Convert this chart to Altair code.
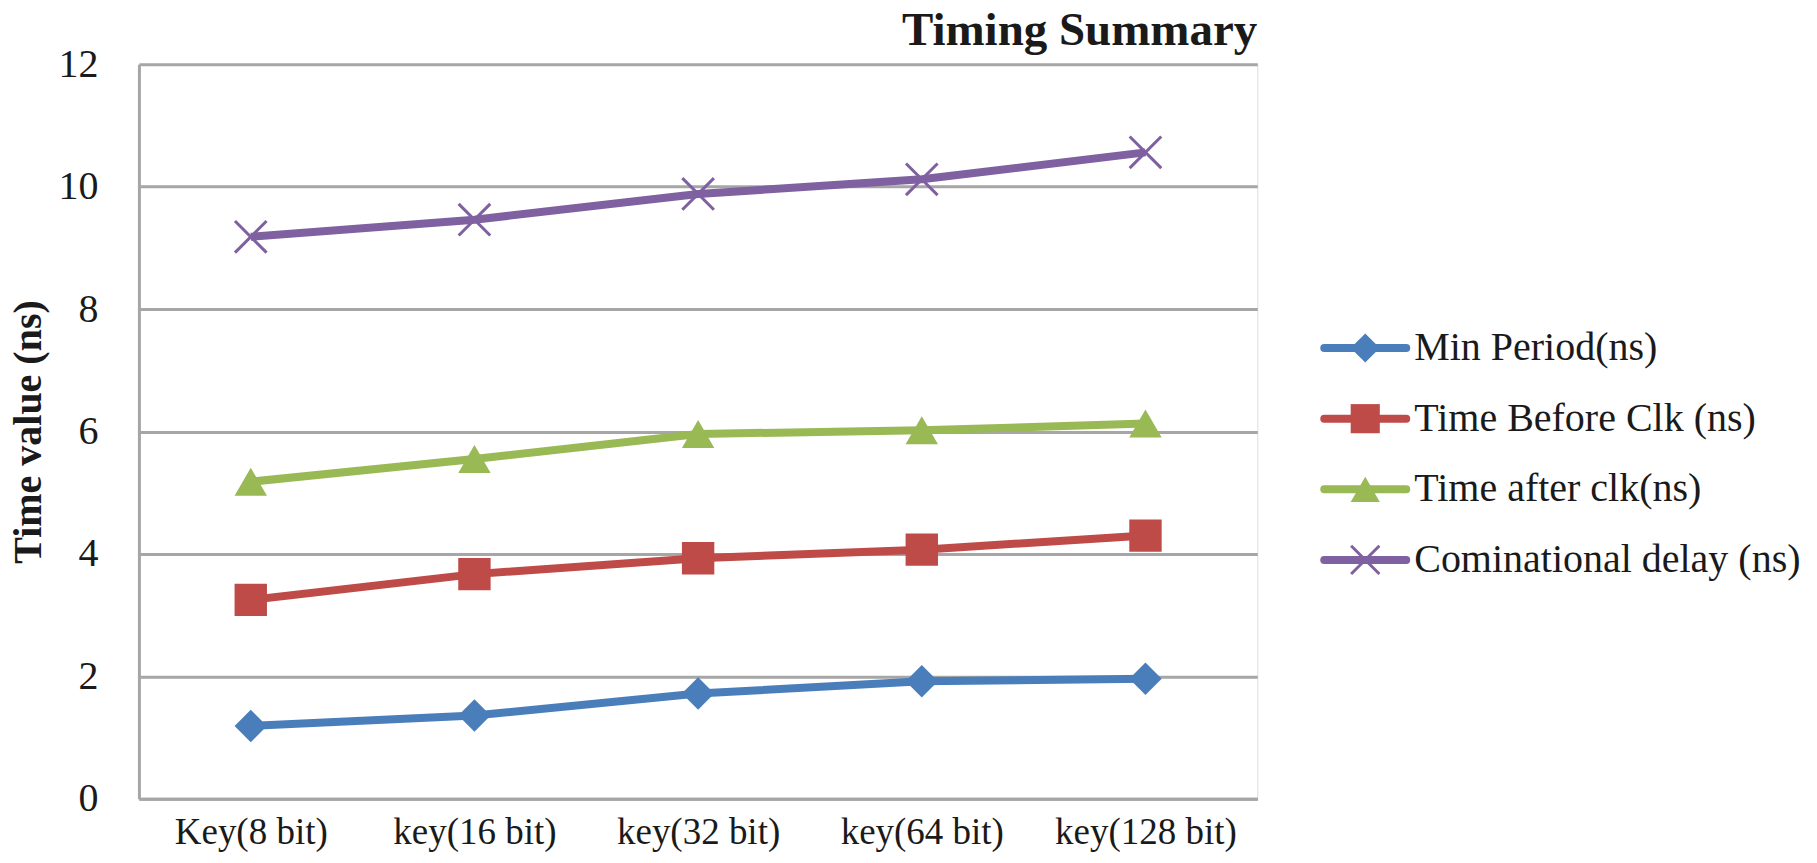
import altair as alt
import pandas as pd

keys = ["Key(8 bit)", "key(16 bit)", "key(32 bit)", "key(64 bit)", "key(128 bit)"]
series = ["Min Period(ns)", "Time Before Clk (ns)", "Time after clk(ns)", "Cominational delay (ns)"]
min_period = [1.19, 1.36, 1.72, 1.92, 1.96]
before_clk = [3.25, 3.67, 3.93, 4.07, 4.30]
after_clk = [5.18, 5.55, 5.96, 6.02, 6.13]
comb_delay = [9.18, 9.46, 9.88, 10.12, 10.56]
y_ticks = [0, 2, 4, 6, 8, 10, 12]

colors = ["#4a7ebb", "#be4b48", "#98b954", "#7f60a0"]
XPATH = "M-1,-1L1,1M-1,1L1,-1"
shapes = ["diamond", "square", "triangle-up", XPATH]
FONT = "Liberation Serif"

rows = []
for s, vals in zip(series, [min_period, before_clk, after_clk, comb_delay]):
    for k, v in zip(keys, vals):
        rows.append({"key": k, "series": s, "value": v})
df = pd.DataFrame(rows)
leg = pd.DataFrame({"series": series})

color = alt.Color("series:N", scale=alt.Scale(domain=series, range=colors), legend=None)
shape = alt.Shape("series:N", scale=alt.Scale(domain=series, range=shapes), legend=None)

x = alt.X("key:N", sort=keys, scale=alt.Scale(type="point", padding=0.5),
          axis=alt.Axis(title=None, labelAngle=0, labelFontSize=37, labelFont=FONT,
                        labelColor="#1a1a1a", labelPadding=16, labelLimit=0, ticks=False,
                        domainColor="#a6a6a6", domainWidth=3, grid=False))
y = alt.Y("value:Q", scale=alt.Scale(domain=[0, 12], nice=False),
          axis=alt.Axis(title="Time value (ns)", values=y_ticks, grid=True,
                        gridColor="#a6a6a6", gridWidth=3, domainColor="#a6a6a6",
                        domainWidth=3, ticks=False, labelFontSize=40, labelFont=FONT,
                        labelColor="#1a1a1a", labelPadding=41, titleFontSize=40,
                        titleFont=FONT, titleFontWeight="bold", titleColor="#1a1a1a",
                        titlePadding=9))

base = alt.Chart(df)
lines = base.mark_line(strokeWidth=8).encode(x=x, y=y, color=color, detail="series:N")
filled_pts = base.transform_filter(alt.datum.series != series[3]).mark_point(
    filled=True, opacity=1, size=1050).encode(x=x, y=y, color=color, shape=shape)
x_pts = base.transform_filter(alt.datum.series == series[3]).mark_point(
    filled=False, opacity=1, size=1000, strokeWidth=3, shape=XPATH).encode(x=x, y=y, color=color)

main = alt.layer(lines, filled_pts, x_pts)

ly = alt.Y("series:N", sort=series, scale=alt.Scale(type="point", range=[284, 496], padding=0), axis=None)
lbase = alt.Chart(leg)
l_rule = lbase.mark_rule(strokeWidth=8, strokeCap="round").encode(
    x=alt.value(1186), x2=alt.value(1268), y=ly, color=color)
l_fill = lbase.transform_filter(alt.datum.series != series[3]).mark_point(
    filled=True, opacity=1, size=850).encode(x=alt.value(1227), y=ly, color=color, shape=shape)
l_x = lbase.transform_filter(alt.datum.series == series[3]).mark_point(
    filled=False, opacity=1, size=800, strokeWidth=3, shape=XPATH).encode(
    x=alt.value(1227), y=ly, color=color)
l_text = lbase.mark_text(align="left", baseline="middle", fontSize=40, font=FONT,
                         color="#1a1a1a").encode(x=alt.value(1276), y=ly, text="series:N")
legend = alt.layer(l_rule, l_fill, l_x, l_text)

chart = alt.layer(main, legend).resolve_scale(y="independent").properties(
    width=1119, height=735,
    title=alt.Title("Timing Summary", anchor="end", frame="group", fontSize=47, font=FONT,
                    fontWeight="bold", color="#1a1a1a", offset=12, dy=23),
    autosize=alt.AutoSizeParams(type="none"),
    padding={"left": 131, "top": 56, "right": 552, "bottom": 62},
).configure_view(stroke=None).configure(background="white")

chart.save("out.html", embed_options={"renderer": "svg", "actions": False})
